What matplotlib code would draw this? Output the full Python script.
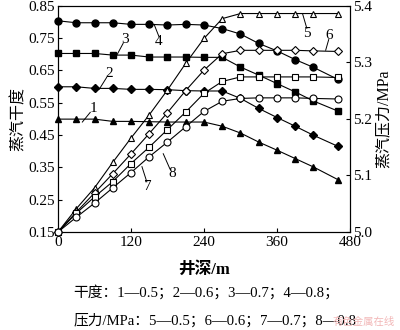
import matplotlib
matplotlib.use('Agg')
import matplotlib.pyplot as plt

plt.rcParams['font.family'] = ['Liberation Serif', 'Noto Sans CJK SC']

# well depth (m) at each sample point
depth = [0, 30, 60, 90, 120, 150, 180, 210, 240, 270, 300, 330, 360, 390, 420, 460]

# steam quality, initial quality 0.5 / 0.6 / 0.7 / 0.8 (curves 1-4)
q1 = [0.499, 0.499, 0.499, 0.492, 0.492, 0.491, 0.490, 0.490, 0.490, 0.477, 0.456, 0.428, 0.403, 0.377, 0.351, 0.312]
q2 = [0.599, 0.599, 0.594, 0.594, 0.591, 0.591, 0.590, 0.587, 0.586, 0.586, 0.563, 0.532, 0.504, 0.477, 0.449, 0.415]
q3 = [0.702, 0.702, 0.702, 0.697, 0.697, 0.691, 0.691, 0.691, 0.690, 0.690, 0.660, 0.635, 0.609, 0.583, 0.555, 0.524]
q4 = [0.803, 0.797, 0.797, 0.797, 0.792, 0.792, 0.790, 0.792, 0.790, 0.779, 0.762, 0.733, 0.710, 0.683, 0.659, 0.622]

# steam pressure (MPa), curves 5-8
p5 = [5.000, 5.041, 5.078, 5.123, 5.166, 5.207, 5.251, 5.298, 5.342, 5.377, 5.386, 5.386, 5.386, 5.386, 5.386, 5.386]
p6 = [5.000, 5.035, 5.069, 5.103, 5.138, 5.174, 5.211, 5.250, 5.286, 5.315, 5.321, 5.321, 5.321, 5.321, 5.320, 5.319]
p7 = [5.000, 5.033, 5.062, 5.089, 5.121, 5.150, 5.181, 5.212, 5.245, 5.266, 5.274, 5.274, 5.274, 5.274, 5.274, 5.273]
p8 = [5.000, 5.026, 5.051, 5.078, 5.105, 5.133, 5.159, 5.186, 5.213, 5.231, 5.236, 5.237, 5.237, 5.237, 5.236, 5.235]

x_ticks = [0, 120, 240, 360, 480]
q_ticks = [0.15, 0.25, 0.35, 0.45, 0.55, 0.65, 0.75, 0.85]
p_ticks = [5.0, 5.1, 5.2, 5.3, 5.4]

fig = plt.figure(figsize=(4.0, 3.3), dpi=100)
ax = fig.add_axes([0.145, 0.297, 0.73, 0.686])
ax2 = ax.twinx()

lw = 0.8
ms = 5
for q, mk in [(q1, '^'), (q2, 'D'), (q3, 's'), (q4, 'o')]:
    ax.plot(depth, q, color='black', lw=lw, marker=mk,
            ms=ms - 0.6 if mk == 'D' else ms, mfc='black', mec='black', clip_on=False, zorder=3)
for p, mk in [(p5, '^'), (p6, 'D'), (p7, 's'), (p8, 'o')]:
    ax2.plot(depth, p, color='black', lw=lw, marker=mk,
             ms=ms - 0.6 if mk == 'D' else ms, mfc='white', mec='black', mew=0.8,
             clip_on=False, zorder=3)

ax.set_xlim(0, 480)
ax.set_ylim(0.15, 0.85)
ax2.set_ylim(5.0, 5.4)
ax.set_xticks(x_ticks)
ax.set_yticks(q_ticks)
ax.set_yticklabels([f'{v:.2f}' for v in q_ticks])
ax2.set_yticks(p_ticks)
ax2.set_yticklabels([f'{v:.1f}' for v in p_ticks])

for a in (ax, ax2):
    a.tick_params(direction='in', length=3, width=0.8, labelsize=11, pad=2)
    for s in a.spines.values():
        s.set_linewidth(0.8)
ax.tick_params(axis='x', pad=3)

ax.set_ylabel('蒸汽干度', fontsize=11.5, labelpad=1)
ax2.set_ylabel('蒸汽压力/MPa', fontsize=11.5, labelpad=3)
ax.set_xlabel('井深/m', fontsize=12, fontweight='bold', labelpad=9)

# curve numbers with leader lines (data coords of the dryness axis)
labels = [
    ('1', (40, 0.490), (53, 0.520), (58, 0.532)),
    ('2', (68, 0.592), (80, 0.628), (84, 0.640)),
    ('3', (97, 0.698), (107, 0.733), (110, 0.745)),
    ('4', (158, 0.792), (166, 0.754), (166, 0.740)),
    ('5', (402, 0.825), (409, 0.780), (409, 0.765)),
    ('6', (440, 0.712), (445, 0.745), (446, 0.758)),
    ('7', (138, 0.352), (146, 0.305), (148, 0.290)),
    ('8', (173, 0.392), (184, 0.345), (187, 0.332)),
]
for txt, p0, p1, pt in labels:
    ax.plot([p0[0], p1[0]], [p0[1], p1[1]], color='black', lw=0.7, zorder=4)
    ax.text(pt[0], pt[1], txt, fontsize=11, ha='center', va='center', zorder=4)

fig.text(0.183, 0.114, '干度：1—0.5；2—0.6；3—0.7；4—0.8；', fontsize=10.6, va='center')
fig.text(0.183, 0.030, '压力/MPa：5—0.5；6—0.6；7—0.7；8—0.8', fontsize=10.6, va='center')
fig.text(0.832, 0.024, '有色金属在线', fontsize=7.5, color='#f2b8b8', va='center')

fig.savefig('out.png', dpi=100)
